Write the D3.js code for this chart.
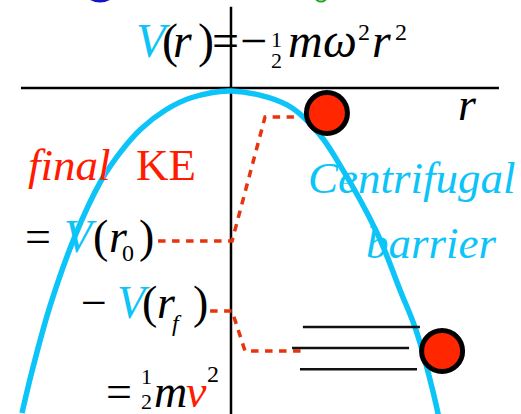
<!DOCTYPE html>
<html>
<head>
<meta charset="utf-8">
<script src="https://cdn.jsdelivr.net/npm/d3@7"></script>
<style>
  html, body { margin: 0; padding: 0; background: #fff; }
  #chart { width: 521px; height: 414px; }
</style>
</head>
<body>
<div id="chart"></div>
<script>
// potential curve V(r)
const curveR = [-1.0, -0.952, -0.866, -0.746, -0.622, -0.526, -0.431, -0.311, -0.191, 0, 0.268, 0.426, 0.507, 0.699, 0.809, 0.890, 0.990, 1.0];
const curveV = [-1.0, -0.871, -0.671, -0.455, -0.286, -0.195, -0.126, -0.067, -0.030, -0.009, -0.052, -0.145, -0.222, -0.446, -0.622, -0.754, -1.0, -1.04];

// dashed energy paths
const upperR = [-0.349, 0.005, 0.163, 0.301];
const upperV = [-0.471, -0.471, -0.089, -0.089];
const lowerR = [-0.100, 0.005, 0.067, 0.344];
const lowerV = [-0.686, -0.686, -0.809, -0.809];

// balls
const ballR = [0.459, 1.010];
const ballV = [-0.077, -0.809];

// speed lines next to the lower ball
const speedR0 = [0.344, 0.292, 0.330];
const speedR1 = [0.904, 0.852, 0.890];
const speedV = [-0.735, -0.800, -0.865];

// axes extent
const axisR = [-1.005, 1.282];
const axisV = [0.25, -1.01];

const serif = '"Liberation Serif", serif';

function Sketch(){

	function exports(){
		const root = this;
		const width = 521;
		const height = 414;

		const cyan = '#0cc4f8';
		const red = '#ff1a00';
		const dash = '#e8330d';

		const x = d3.scaleLinear().domain([-1, 1]).range([22, 440]);
		const y = d3.scaleLinear().domain([-1, 0]).range([413, 88]);

		const svg = d3.select(root)
			.append('svg')
			.attr('width', width)
			.attr('height', height);

		// bits of text cut off at the top
		svg.append('ellipse')
			.attr('cx', 100).attr('cy', -5).attr('rx', 13).attr('ry', 7.5)
			.style('fill', '#1414c4');
		svg.append('ellipse')
			.attr('cx', 321).attr('cy', -3).attr('rx', 5.5).attr('ry', 4.5)
			.style('fill', 'none').style('stroke', '#22a022').style('stroke-width', 2);

		// axes
		svg.append('line')
			.attr('x1', x(axisR[0])).attr('x2', x(axisR[1]))
			.attr('y1', y(0)).attr('y2', y(0))
			.style('stroke', '#000').style('stroke-width', 2.5);
		svg.append('line')
			.attr('x1', x(0)).attr('x2', x(0))
			.attr('y1', y(axisV[0])).attr('y2', y(axisV[1]))
			.style('stroke', '#000').style('stroke-width', 2.5);

		// V(r)
		const curve = d3.line()
			.x(function(d){ return x(d[0]); })
			.y(function(d){ return y(d[1]); })
			.curve(d3.curveCatmullRom.alpha(0.5));

		svg.append('path')
			.attr('d', curve(d3.zip(curveR, curveV)))
			.style('fill', 'none')
			.style('stroke', cyan)
			.style('stroke-width', 5.5);

		const poly = d3.line()
			.x(function(d){ return x(d[0]); })
			.y(function(d){ return y(d[1]); });

		[[upperR, upperV], [lowerR, lowerV]].forEach(function(p){
			svg.append('path')
				.attr('d', poly(d3.zip(p[0], p[1])))
				.style('fill', 'none')
				.style('stroke', dash)
				.style('stroke-width', 3.5)
				.style('stroke-dasharray', '7.5,6.5');
		});

		svg.selectAll('.speed')
			.data(d3.range(speedV.length))
			.enter().append('line')
			.attr('class', 'speed')
			.attr('x1', function(i){ return x(speedR0[i]); })
			.attr('x2', function(i){ return x(speedR1[i]); })
			.attr('y1', function(i){ return y(speedV[i]); })
			.attr('y2', function(i){ return y(speedV[i]); })
			.style('stroke', '#111')
			.style('stroke-width', 2.5);

		svg.selectAll('.ball')
			.data(d3.range(ballR.length))
			.enter().append('circle')
			.attr('class', 'ball')
			.attr('cx', function(i){ return x(ballR[i]); })
			.attr('cy', function(i){ return y(ballV[i]); })
			.attr('r', 20.5)
			.style('fill', '#ff2600')
			.style('stroke', '#000')
			.style('stroke-width', 5);

		// labels: [text, x, y, size, italic, colour]
		const labels = [
			// V(r) = -1/2 m w^2 r^2
			['V', 136, 57, 48, true, cyan],
			['(', 162, 57, 48, false, '#000'],
			['r', 173, 57, 48, true, '#000'],
			[')', 198, 57, 48, false, '#000'],
			['=', 212, 57, 48, false, '#000'],
			['\u2212', 240, 57, 48, false, '#000'],
			['1', 271, 47, 22, false, '#000'],
			['2', 271, 68, 22, false, '#000'],
			['m', 288, 57, 48, true, '#000'],
			['\u03c9', 323, 57, 48, true, '#000'],
			['2', 358, 40, 24, false, '#000'],
			['r', 372, 57, 48, true, '#000'],
			['2', 395, 40, 24, false, '#000'],
			// axis name
			['r', 458, 120, 46, true, '#000'],
			// final KE
			['final', 28, 180, 45, true, red],
			['KE', 136, 180, 45, false, red],
			['Centrifugal', 308, 193, 45, true, cyan],
			['barrier', 366, 258, 45, true, cyan],
			// = V(r0)
			['=', 25, 252, 46, false, '#000'],
			['V', 64, 252, 46, true, cyan],
			['(', 93, 252, 46, false, '#000'],
			['r', 109, 252, 46, true, '#000'],
			['0', 122, 261, 24, false, '#000'],
			[')', 139, 252, 46, false, '#000'],
			// - V(rf)
			['\u2212', 81, 318, 46, false, '#000'],
			['V', 117, 318, 46, true, cyan],
			['(', 142, 318, 46, false, '#000'],
			['r', 157, 318, 46, true, '#000'],
			['f', 172, 331, 24, true, '#000'],
			[')', 193, 318, 46, false, '#000'],
			// = 1/2 m v^2
			['=', 106, 407, 46, false, '#000'],
			['1', 141, 384, 22, false, '#000'],
			['2', 141, 409, 22, false, '#000'],
			['m', 154, 407, 46, true, '#000'],
			['v', 186, 407, 46, true, red],
			['2', 207, 382, 24, false, '#000']
		];

		svg.selectAll('.label')
			.data(labels)
			.enter().append('text')
			.attr('class', 'label')
			.attr('x', function(d){ return d[1]; })
			.attr('y', function(d){ return d[2]; })
			.style('font-family', serif)
			.style('font-size', function(d){ return d[3] + 'px'; })
			.style('font-style', function(d){ return d[4] ? 'italic' : 'normal'; })
			.style('fill', function(d){ return d[5]; })
			.text(function(d){ return d[0]; });
	}

	return exports;
}

const chart = Sketch();
chart.call(document.getElementById('chart'));
</script>
</body>
</html>
